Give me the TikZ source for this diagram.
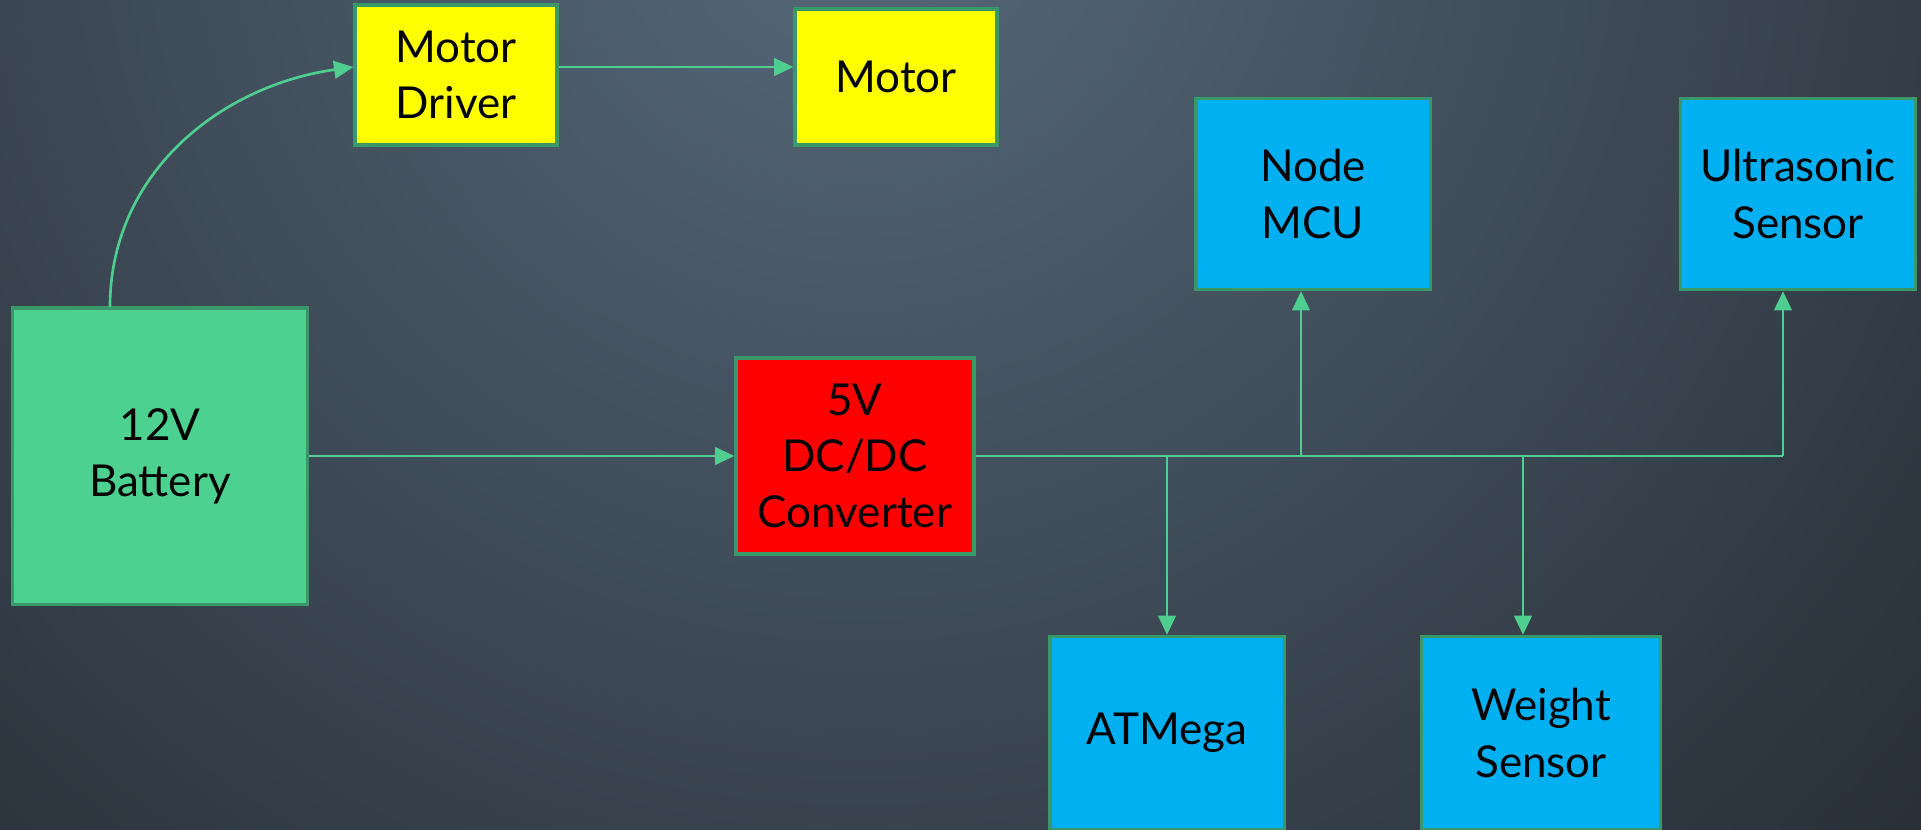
\documentclass[tikz,border=0pt]{standalone}
\usepackage{fontspec}
\setmainfont{Lato}
\usetikzlibrary{arrows.meta}

\definecolor{bgtop}{HTML}{56697A}
\definecolor{bgbot}{HTML}{1C2026}
\definecolor{wire}{HTML}{4ECF90}
\definecolor{rim}{HTML}{3A9868}
\definecolor{battgreen}{HTML}{4DD190}
\definecolor{drvyellow}{HTML}{FFFF00}
\definecolor{convred}{HTML}{FF0000}
\definecolor{modblue}{HTML}{00B0F0}

\tikzset{
  block/.style={draw=rim, line width=0.9pt, align=center, inner sep=0pt,
    font=\fontsize{12.5}{16}\selectfont},
  wire/.style={draw=wire, line width=0.75pt},
  feed/.style={wire, -{Triangle[length=5.5pt,width=5pt]}}
}

\begin{document}
\begin{tikzpicture}[x=0.01cm,y=-0.01cm]
  \useasboundingbox (0,0) rectangle (1921,829);
  \begin{scope}
    \clip (0,0) rectangle (1921,829);
    \fill[bgbot] (0,0) rectangle (1921,829);
    \shade[inner color=bgtop, outer color=bgbot] (860,-120) circle (1800);
  \end{scope}

  % blocks
  \node[block, fill=battgreen, minimum width=2.94cm, minimum height=2.96cm] (bat) at (160,456) {12V\\Battery};
  \node[block, fill=drvyellow, minimum width=2.02cm, minimum height=1.40cm] (drv) at (456,75) {Motor\\Driver};
  \node[block, fill=drvyellow, minimum width=2.02cm, minimum height=1.36cm] (mot) at (896,77) {Motor};
  \node[block, fill=convred, minimum width=2.38cm, minimum height=1.96cm] (conv) at (855,456) {5V\\DC/DC\\Converter};
  \node[block, fill=modblue, minimum width=2.34cm, minimum height=1.91cm] (mcu) at (1313,194) {Node\\MCU};
  \node[block, fill=modblue, minimum width=2.35cm, minimum height=1.91cm] (ult) at (1798,194) {Ultrasonic\\Sensor};
  \node[block, fill=modblue, minimum width=2.34cm, minimum height=1.93cm] (atm) at (1167,733) {ATMega};
  \node[block, fill=modblue, minimum width=2.39cm, minimum height=1.93cm] (wgt) at (1541,733) {Weight\\Sensor};

  % 12V side
  \coordinate (up) at (110,307);
  \coordinate (drvin) at (drv.west |- 0,67);
  \draw[feed] (up) to[out=90,in=188] (drvin);
  \draw[feed] (drvin -| drv.east) -- (drvin -| mot.west);
  \draw[feed] (bat) -- (conv);

  % 5V bus
  \coordinate (tatm) at (1167,456);
  \coordinate (tmcu) at (1301,456);
  \coordinate (twgt) at (1523,456);
  \coordinate (tult) at (1783,456);
  \draw[wire] (conv.east) -- (tult);
  \draw[feed] (tmcu) -- (tmcu |- mcu.south);
  \draw[feed] (tult) -- (tult |- ult.south);
  \draw[feed] (tatm) -- (tatm |- atm.north);
  \draw[feed] (twgt) -- (twgt |- wgt.north);
\end{tikzpicture}
\end{document}
